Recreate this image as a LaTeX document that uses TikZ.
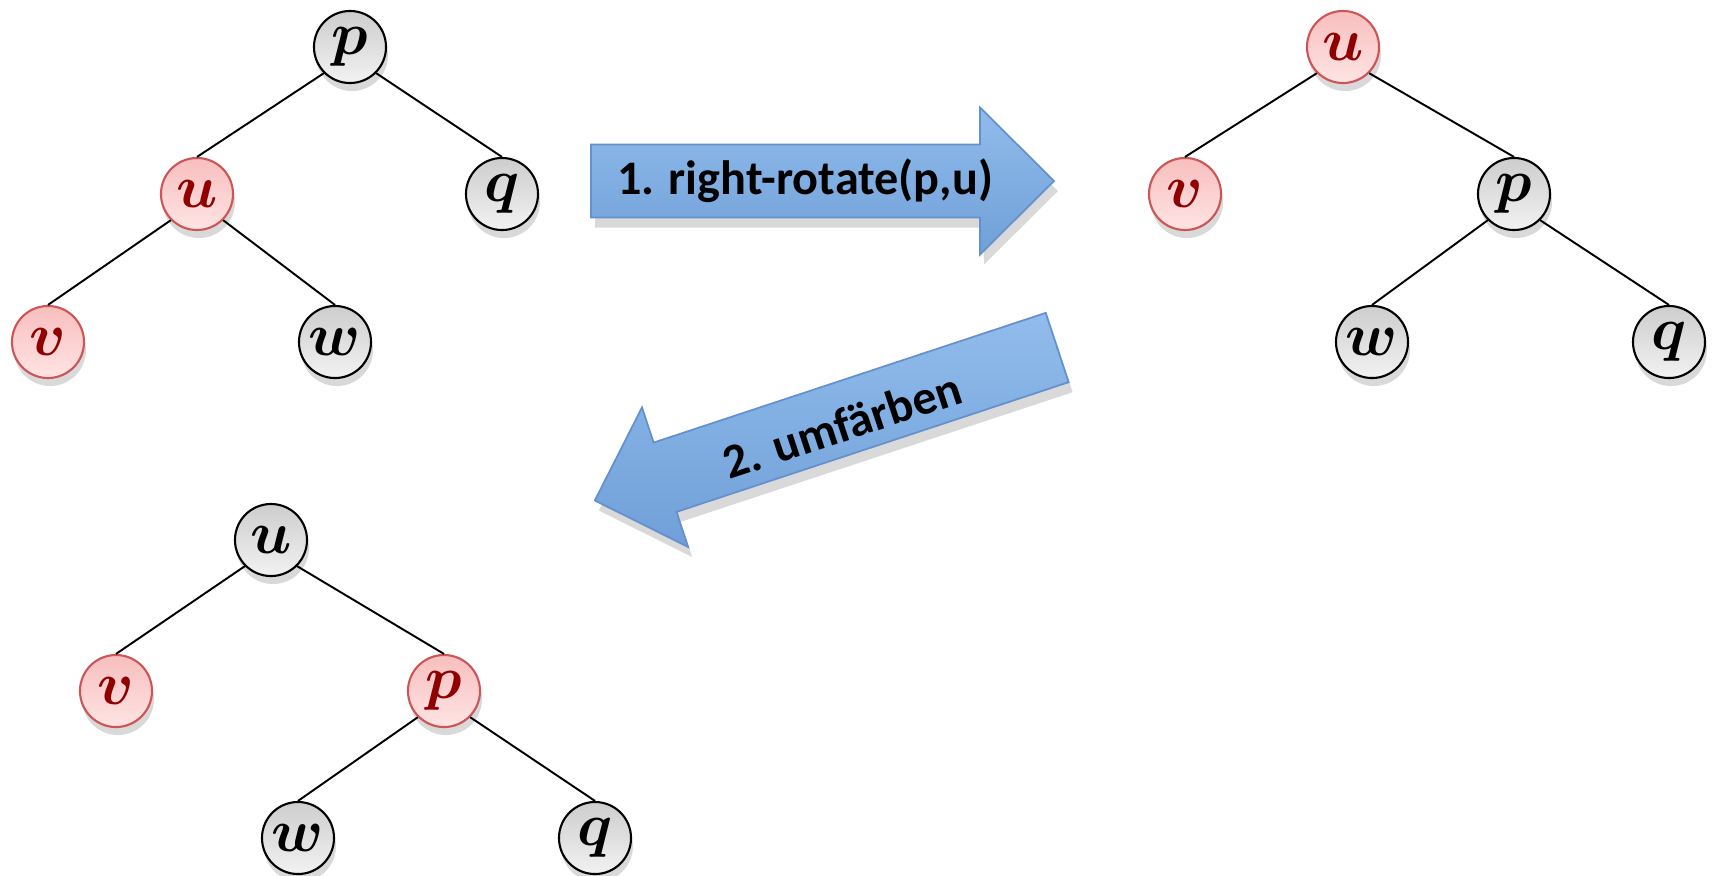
\documentclass[tikz,border=0pt]{standalone}
\usepackage{amsmath}
\usepackage{fontspec}
\setmainfont{Carlito}
\usetikzlibrary{shadows}

\definecolor{redtop}{RGB}{248,190,190}
\definecolor{redbot}{RGB}{255,228,228}
\definecolor{redline}{RGB}{205,85,85}
\definecolor{redtext}{RGB}{145,0,0}
\definecolor{greytop}{RGB}{205,205,205}
\definecolor{greybot}{RGB}{242,242,242}
\definecolor{arrowtop}{RGB}{145,188,236}
\definecolor{arrowbot}{RGB}{112,160,216}
\definecolor{arrowline}{RGB}{100,145,205}

\tikzset{
	vtx/.style={circle, minimum size=7.2mm, inner sep=0pt, line width=0.6pt,
		drop shadow={opacity=0.3, shadow xshift=0.2mm, shadow yshift=-0.8mm},
		font=\LARGE},
	bvtx/.style={vtx, draw=black, top color=greytop, bottom color=greybot, text=black},
	rvtx/.style={vtx, draw=redline, top color=redtop, bottom color=redbot, text=redtext},
	link/.style={line width=0.55pt},
	bigarrow/.style={draw=arrowline, line width=0.5pt, top color=arrowtop, bottom color=arrowbot,
		drop shadow={opacity=0.3, shadow xshift=0.4mm, shadow yshift=-1mm}},
	arrowtext/.style={font=\fontsize{13.7}{16}\selectfont\bfseries, inner sep=0pt}
}

\newcommand{\arrowshape}[1]{(-#1/2,-36.5) -- (#1/2-74,-36.5) -- (#1/2-74,-73.5) -- (#1/2,0)
	-- (#1/2-74,73.5) -- (#1/2-74,36.5) -- (-#1/2,36.5) -- cycle}

\begin{document}
\begin{tikzpicture}[x=0.01cm, y=0.01cm]
		\useasboundingbox (0,0) rectangle (1712,-875);
		% before
		\path
			  ( 350,  -47) node[bvtx] (pA) {$\boldsymbol{p}$}
			  ( 197, -194) node[rvtx] (uA) {$\boldsymbol{u}$}
			  ( 502, -194) node[bvtx] (qA) {$\boldsymbol{q}$}
			  (  48, -342) node[rvtx] (vA) {$\boldsymbol{v}$}
			  ( 335, -342) node[bvtx] (wA) {$\boldsymbol{w}$}
		;
		% after rotation
		\path
			  (1343,  -47) node[rvtx] (uB) {$\boldsymbol{u}$}
			  (1185, -194) node[rvtx] (vB) {$\boldsymbol{v}$}
			  (1514, -194) node[bvtx] (pB) {$\boldsymbol{p}$}
			  (1372, -342) node[bvtx] (wB) {$\boldsymbol{w}$}
			  (1669, -342) node[bvtx] (qB) {$\boldsymbol{q}$}
		;
		% after recolouring
		\path
			  ( 271, -540) node[bvtx] (uC) {$\boldsymbol{u}$}
			  ( 116, -691) node[rvtx] (vC) {$\boldsymbol{v}$}
			  ( 444, -691) node[rvtx] (pC) {$\boldsymbol{p}$}
			  ( 298, -838) node[bvtx] (wC) {$\boldsymbol{w}$}
			  ( 595, -838) node[bvtx] (qC) {$\boldsymbol{q}$}
		;
		\draw[link] (pA.south west) -- (uA.north);
		\draw[link] (pA.south east) -- (qA.north);
		\draw[link] (uA.south west) -- (vA.north);
		\draw[link] (uA.south east) -- (wA.north);
		\draw[link] (uB.south west) -- (vB.north);
		\draw[link] (uB.south east) -- (pB.north);
		\draw[link] (pB.south west) -- (wB.north);
		\draw[link] (pB.south east) -- (qB.north);
		\draw[link] (uC.south west) -- (vC.north);
		\draw[link] (uC.south east) -- (pC.north);
		\draw[link] (pC.south west) -- (wC.north);
		\draw[link] (pC.south east) -- (qC.north);
		% the two steps
		\begin{scope}[shift={(822.5,-181)}]
			\path[bigarrow] \arrowshape{463};
		\end{scope}
		\begin{scope}[shift={(826,-424)}, rotate=198.3]
			\path[bigarrow] \arrowshape{487};
		\end{scope}
		\node[arrowtext] (rot)   at (805,-181)              {1. right-rotate(p,u)};
		\node[arrowtext] (recol) at (842,-425) [rotate=18.3] {2. umfärben};
\end{tikzpicture}
\end{document}
